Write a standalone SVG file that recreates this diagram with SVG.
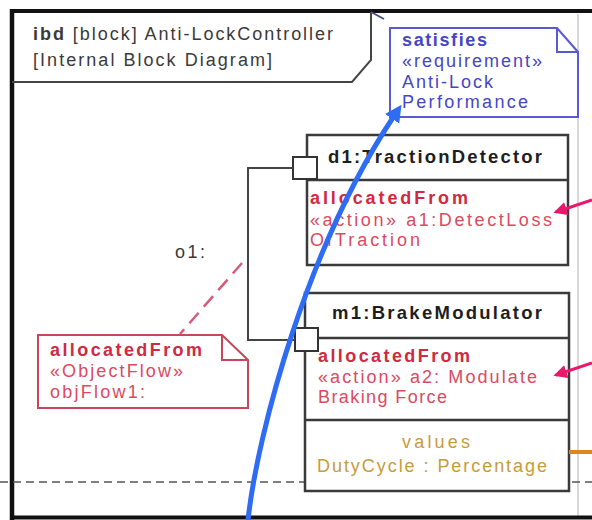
<svg xmlns="http://www.w3.org/2000/svg" width="592" height="520" viewBox="0 0 592 520">
  <style>
    text { font-family: "Liberation Sans", Arial, sans-serif; font-size: 18px; }
    .hdr { fill: #3a3a3a; }
    .title { fill: #1e1e1e; font-weight: bold; font-size: 18.5px; }
    .req { fill: #4646c4; }
    .alloc { fill: #cf2a40; font-weight: bold; }
    .allocTxt { fill: #dc4a5e; }
    .val { fill: #c99a3a; }
    .blk { fill: #ffffff; stroke: #3a3a3a; stroke-width: 2.5; }
    .div { stroke: #3a3a3a; stroke-width: 2.5; }
    .port { fill: #ffffff; stroke: #333333; stroke-width: 2; }
    .conn { fill: none; stroke: #444444; stroke-width: 2; }
  </style>
  <defs>
    <marker id="blueHead" viewBox="0 0 10 10" refX="2" refY="5" markerWidth="3.4" markerHeight="3.4" orient="auto" markerUnits="strokeWidth">
      <path d="M0,0 L10,5 L0,10 Z" fill="#2f6cf4"/>
    </marker>
    <marker id="pinkHead" viewBox="0 0 10 10" refX="8" refY="5" markerWidth="4.5" markerHeight="4.5" orient="auto" markerUnits="strokeWidth">
      <path d="M0,0 L10,5 L0,10 Z" fill="#e8186c"/>
    </marker>
  </defs>

  <rect width="592" height="520" fill="#ffffff"/>

  <!-- diagram frame -->
  <g id="frame">
    <line x1="578" y1="14" x2="578" y2="516" stroke="#cccccc" stroke-width="1.5"/>
    <line x1="10" y1="11" x2="592" y2="11" stroke="#111111" stroke-width="4"/>
    <line x1="12" y1="9" x2="12" y2="520" stroke="#111111" stroke-width="4.5"/>
    <line x1="10" y1="517.5" x2="592" y2="517.5" stroke="#111111" stroke-width="4"/>
    <path d="M12,82 L352,82 L371,60 L371,12" fill="none" stroke="#444444" stroke-width="2"/>
    <line x1="371" y1="12" x2="384" y2="19" stroke="#4a4a8a" stroke-width="1.8"/>
    <text class="hdr" x="33" y="40" textLength="300" lengthAdjust="spacing"><tspan font-weight="bold">ibd</tspan> [block] Anti-LockController</text>
    <text class="hdr" x="33" y="66" textLength="239" lengthAdjust="spacing">[Internal Block Diagram]</text>
  </g>

  <!-- page break guide -->
  <line x1="0" y1="482" x2="592" y2="482" stroke="#555555" stroke-width="1.5" stroke-dasharray="8,5"/>

  <!-- requirement note -->
  <g id="satisfiesNote">
    <path d="M390,28 L557,28 L578,52 L578,117 L390,117 Z" fill="#ffffff" stroke="#5a5ad0" stroke-width="2"/>
    <path d="M557,28 L557,52 L578,52" fill="none" stroke="#5a5ad0" stroke-width="2"/>
    <text class="req" x="402" y="46" font-weight="bold" textLength="85" lengthAdjust="spacing">satisfies</text>
    <text class="req" x="402" y="67" textLength="140" lengthAdjust="spacing">«requirement»</text>
    <text class="req" x="402" y="88" textLength="91" lengthAdjust="spacing">Anti-Lock</text>
    <text class="req" x="402" y="108" textLength="126" lengthAdjust="spacing">Performance</text>
  </g>

  <!-- part d1 -->
  <g id="d1">
    <rect class="blk" x="307" y="135" width="261" height="130"/>
    <line class="div" x1="307" y1="180" x2="568" y2="180"/>
    <text class="title" x="328" y="163" textLength="214" lengthAdjust="spacing">d1:TractionDetector</text>
    <text class="alloc" x="310" y="204" textLength="158" lengthAdjust="spacing">allocatedFrom</text>
    <text class="allocTxt" x="310" y="226" textLength="242" lengthAdjust="spacing">«action» a1:DetectLoss</text>
    <text class="allocTxt" x="310" y="246" textLength="110" lengthAdjust="spacing">OfTraction</text>
    <rect id="d1Port" class="port" x="293" y="157" width="24" height="22"/>
  </g>

  <!-- part m1 -->
  <g id="m1">
    <rect class="blk" x="305" y="293" width="264" height="198"/>
    <line class="div" x1="305" y1="338" x2="569" y2="338"/>
    <line class="div" x1="305" y1="420" x2="569" y2="420"/>
    <text class="title" x="332" y="319" textLength="210" lengthAdjust="spacing">m1:BrakeModulator</text>
    <text class="alloc" x="318" y="362" textLength="152" lengthAdjust="spacing">allocatedFrom</text>
    <text class="allocTxt" x="318" y="383" textLength="219" lengthAdjust="spacing">«action» a2: Modulate</text>
    <text class="allocTxt" x="318" y="403" textLength="129" lengthAdjust="spacing">Braking Force</text>
    <text class="val" x="402" y="448" textLength="68" lengthAdjust="spacing">values</text>
    <text class="val" x="317" y="472" textLength="230" lengthAdjust="spacing">DutyCycle : Percentage</text>
    <rect id="m1Port" class="port" x="295" y="328" width="23" height="23"/>
  </g>

  <!-- allocation note -->
  <g id="allocNote">
    <path d="M38,335 L222,335 L248,360 L248,408 L38,408 Z" fill="#ffffff" stroke="#c8485a" stroke-width="2"/>
    <path d="M222,335 L222,360 L248,360" fill="none" stroke="#c8485a" stroke-width="2"/>
    <text class="alloc" x="50" y="356" textLength="152" lengthAdjust="spacing">allocatedFrom</text>
    <text class="allocTxt" x="50" y="377" textLength="133" lengthAdjust="spacing">«ObjectFlow»</text>
    <text class="allocTxt" x="50" y="398" textLength="95" lengthAdjust="spacing">objFlow1:</text>
  </g>

  <!-- connectors -->
  <g id="connectors">
    <path class="conn" d="M293,168 L248,168 L248,340 L295,340"/>
    <text class="hdr" x="175" y="258" textLength="30" lengthAdjust="spacing">o1:</text>
    <line x1="242" y1="263" x2="180" y2="334" stroke="#d85a78" stroke-width="2.5" stroke-dasharray="14,8"/>
    <path d="M248,520 C258,430 308,245 394,116" fill="none" stroke="#2f6cf4" stroke-width="5" marker-end="url(#blueHead)"/>
    <line x1="592" y1="200" x2="556" y2="212" stroke="#e8186c" stroke-width="3" marker-end="url(#pinkHead)"/>
    <line x1="592" y1="363" x2="556" y2="375" stroke="#e8186c" stroke-width="3" marker-end="url(#pinkHead)"/>
    <line x1="569" y1="452" x2="592" y2="452" stroke="#e0841e" stroke-width="4"/>
  </g>
</svg>
